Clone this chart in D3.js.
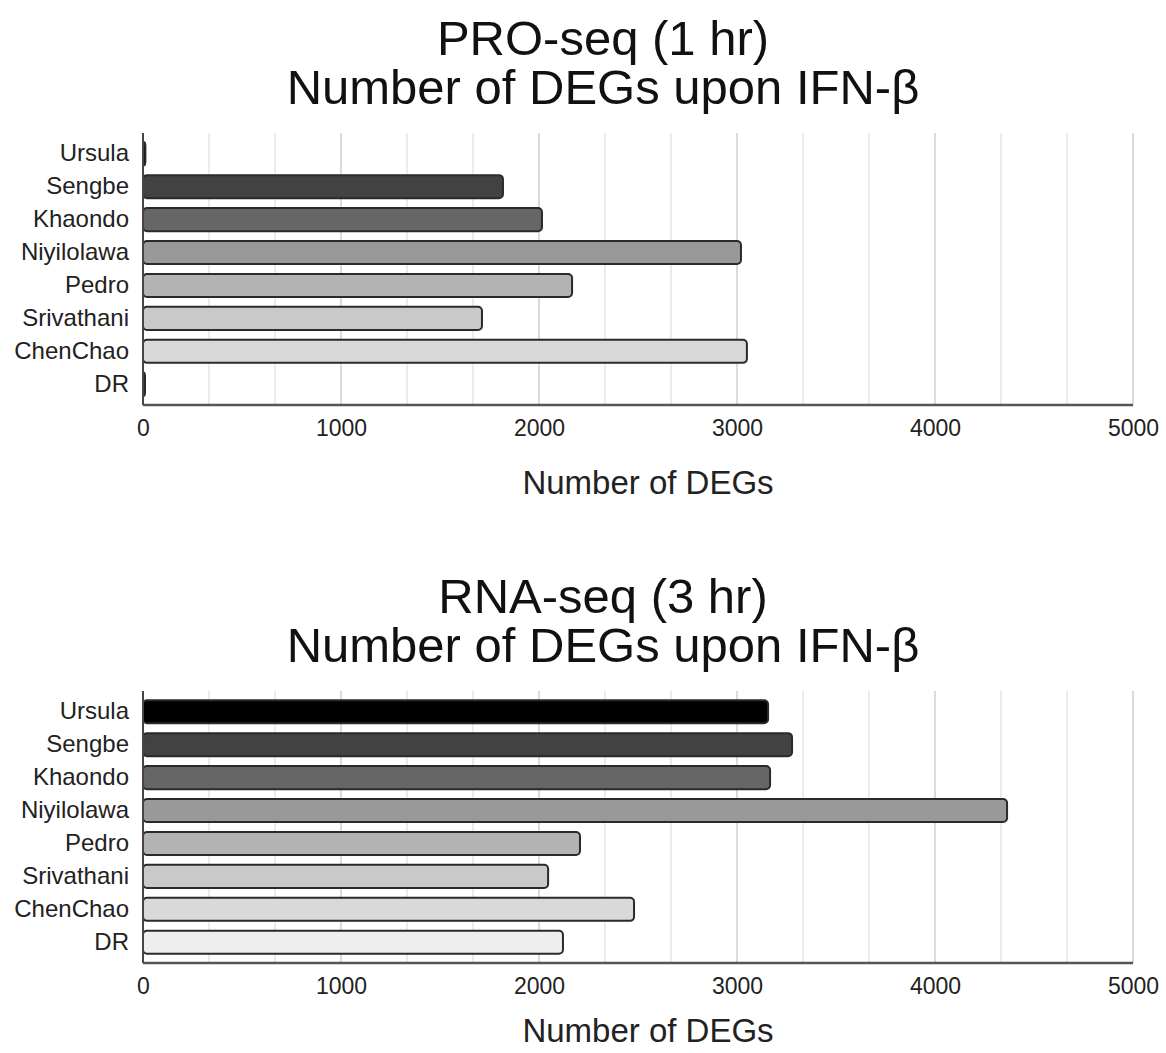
<!DOCTYPE html>
<html>
<head>
<meta charset="utf-8">
<script src="https://cdn.jsdelivr.net/npm/d3@7"></script>
<style>
  html, body { margin: 0; padding: 0; background: #fff; }
  svg { display: block; font-family: "Liberation Sans", Arial, sans-serif; }
</style>
</head>
<body>
<svg id="chart" width="1166" height="1053"></svg>
<script>
// Samples, listed top to bottom
const categories = ["Ursula", "Sengbe", "Khaondo", "Niyilolawa", "Pedro", "Srivathani", "ChenChao", "DR"];
// Number of differentially expressed genes per sample
const proSeqDEGs = [12, 1818, 2015, 3020, 2167, 1712, 3050, 10];
const rnaSeqDEGs = [3157, 3278, 3167, 4364, 2207, 2046, 2480, 2121];
// Grey shade for each sample
const barColors = ["#000000", "#424242", "#666666", "#999999", "#b3b3b3", "#c9c9c9", "#d9d9d9", "#eeeeee"];
// Axis
const xTickValues = [0, 1000, 2000, 3000, 4000, 5000];
const xMax = 5000;
const xTitle = "Number of DEGs";
const panels = [
  { title: ["PRO-seq (1 hr)", "Number of DEGs upon IFN-β"], values: proSeqDEGs, xTitleY: 494 },
  { title: ["RNA-seq (3 hr)", "Number of DEGs upon IFN-β"], values: rnaSeqDEGs, xTitleY: 1042 }
];

const svg = d3.select("#chart");
const left = 143, right = 1133;
const panelOffset = 558;
const x = d3.scaleLinear().domain([0, xMax]).range([left, right]);
const color = d3.scaleOrdinal().domain(categories).range(barColors);
const font = "Liberation Sans, Arial, sans-serif";

panels.forEach((p, i) => {
  const oy = i * panelOffset;
  const top = 133 + oy, bottom = 405 + oy;
  const g = svg.append("g");

  // two-line title, one text element per line
  p.title.forEach((line, k) => {
    g.append("text")
      .attr("x", 603).attr("y", 55 + oy + k * 49)
      .attr("text-anchor", "middle")
      .attr("font-size", 49)
      .attr("fill", "#111")
      .text(line);
  });

  const y = d3.scaleBand().domain(categories).range([top, bottom])
    .paddingInner(0.3).paddingOuter(0.28);

  // minor gridlines every third of a thousand, major at the ticks
  const minor = d3.range(1, 16).map(k => k * xMax / 15);
  g.append("g").selectAll("line").data(minor).join("line")
    .attr("x1", d => x(d)).attr("x2", d => x(d))
    .attr("y1", top).attr("y2", bottom)
    .attr("stroke", d => xTickValues.includes(Math.round(d)) ? "#cfcfcf" : "#e4e4e4")
    .attr("stroke-width", 1.5);

  // bars
  g.append("g").selectAll("rect").data(categories).join("rect")
    .attr("x", x(0))
    .attr("y", d => y(d))
    .attr("width", (d, k) => Math.max(2, x(p.values[k]) - x(0)))
    .attr("height", y.bandwidth())
    .attr("rx", 4).attr("ry", 4)
    .attr("fill", d => color(d))
    .attr("stroke", "#2a2a2a")
    .attr("stroke-width", 2);

  // y axis
  const ya = g.append("g").attr("transform", `translate(${left},0)`)
    .call(d3.axisLeft(y).tickSize(0).tickPadding(14));
  ya.select(".domain").attr("stroke", "#444").attr("stroke-width", 2)
    .attr("d", `M0,${top}V${bottom}`);
  ya.selectAll("text").attr("font-size", 24).attr("fill", "#222")
    .attr("font-family", font);

  // x axis
  const xa = g.append("g").attr("transform", `translate(0,${bottom})`)
    .call(d3.axisBottom(x).tickValues(xTickValues).tickSize(0).tickPadding(15)
      .tickFormat(d3.format("d")));
  xa.select(".domain").attr("stroke", "#555").attr("stroke-width", 2.5)
    .attr("d", `M${left},0H${right}`);
  xa.selectAll("text").attr("font-size", 23).attr("fill", "#222")
    .attr("font-family", font);

  // x axis title
  g.append("text")
    .attr("x", 648).attr("y", p.xTitleY)
    .attr("text-anchor", "middle")
    .attr("font-size", 33)
    .attr("fill", "#222")
    .text(xTitle);
});
</script>
</body>
</html>
